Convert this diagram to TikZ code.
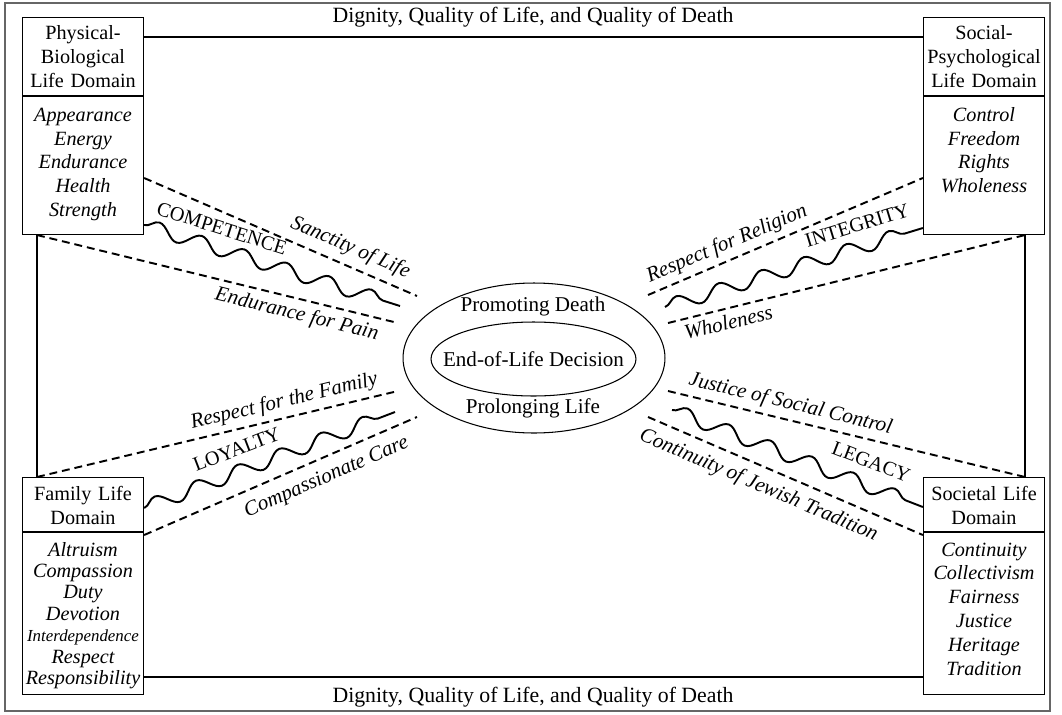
\documentclass[tikz,border=0pt]{standalone}
\usepackage{fontspec}
\setmainfont{Liberation Serif}
\usetikzlibrary{shapes.geometric,decorations.pathmorphing}

\begin{document}
\begin{tikzpicture}[x=0.02cm,y=-0.02cm,font=\fontsize{12}{14}\selectfont,
    domainhead/.style={draw,line width=.6pt,align=center,text width=66pt,inner xsep=1.5pt,inner ysep=3pt,anchor=north,font=\fontsize{11.5}{13.7}\selectfont},
    domainlist/.style={domainhead,font=\fontsize{11.5}{13.6}\selectfont\itshape},
    frameline/.style={line width=1.2pt},
    valueline/.style={line width=1.1pt,dash pattern=on 4.5pt off 2.8pt},
    virtueline/.style={line width=1.1pt,decorate,decoration={snake,segment length=0.89cm,amplitude=0.14cm}},
    valuelabel/.style={font=\fontsize{12}{14}\selectfont\itshape,sloped,inner sep=1pt},
    virtuelabel/.style={font=\fontsize{11.5}{14}\selectfont,sloped,inner sep=1pt}]
    \useasboundingbox (0,0) rectangle (1062,714);
    \draw[black!60,line width=.6pt](5,3) rectangle (1050,711);

    \node[domainhead,text height=9.3pt,text depth=29.1pt](pbhead)at(83,17){Physical-\\Biological\\Life Domain};
    \node[domainlist,text height=11pt,text depth=61.5pt](pblist)at(pbhead.south){Appearance\\Energy\\Endurance\\Health\\Strength};
    \node[domainhead,text height=9.3pt,text depth=29.1pt](sphead)at(984,17){Social-\\Psychological\\Life Domain};
    \node[domainlist,text height=11pt,text depth=61.5pt](splist)at(sphead.south){Control\\Freedom\\Rights\\Wholeness};
    \node[domainhead,text height=10pt,text depth=14.7pt](fahead)at(83,477){Family Life\\Domain};
    \node[domainlist,font=\fontsize{11.5}{12.2}\selectfont\itshape,text height=10.4pt,text depth=75.8pt](falist)at(fahead.south){Altruism\\Compassion\\Duty\\Devotion\\{\fontsize{9.6}{12.2}\selectfont Interdependence}\\Respect\\Responsibility};
    \node[domainhead,text height=10pt,text depth=14.7pt](sohead)at(984,477){Societal Life\\Domain};
    \node[domainlist,text height=10.4pt,text depth=75.8pt](solist)at(sohead.south){Continuity\\Collectivism\\Fairness\\Justice\\Heritage\\Tradition};

    \node[font=\fontsize{12.4}{14}\selectfont](dignitytop)at(533,17){Dignity, Quality of Life, and Quality of Death};
    \node[font=\fontsize{12.4}{14}\selectfont](dignitybot)at(533,697){Dignity, Quality of Life, and Quality of Death};

    \coordinate(ltop)at(37,0 |- pblist.south);
    \coordinate(lbot)at(37,0 |- fahead.north);
    \coordinate(rtop)at(1025,0 |- splist.south);
    \coordinate(rbot)at(1025,0 |- sohead.north);
    \draw[frameline](pbhead.east |- 0,37)--(sphead.west |- 0,37);
    \draw[frameline](falist.east |- 0,677)--(solist.west |- 0,677);
    \draw[frameline](ltop)--(lbot);
    \draw[frameline](rtop)--(rbot);

    \node[draw,ellipse,line width=.6pt,minimum width=5.24cm,minimum height=3cm,inner sep=0pt](choice)at(534,358){};
    \node[draw,ellipse,line width=.6pt,minimum width=4.1cm,minimum height=1.48cm,inner sep=0pt](decision)at(533.5,359){};
    \node(decisiontext)at(decision){End-of-Life Decision};
    \node(promoting)at(533,306){Promoting Death};
    \node(prolonging)at(533,408){Prolonging Life};

    \coordinate(tlup)at(417,296);
    \coordinate(tlwave)at(400,306);
    \coordinate(tllow)at(398,323);
    \coordinate(trup)at(648,295);
    \coordinate(trwave)at(665,307);
    \coordinate(trlow)at(668,323);
    \coordinate(blup)at(398,391);
    \coordinate(blwave)at(395,412);
    \coordinate(bllow)at(417,417);
    \coordinate(brup)at(668,391);
    \coordinate(brwave)at(672,410);
    \coordinate(brlow)at(648,417);

    \draw[valueline](pblist.east |- 0,178)--(tlup)node[valuelabel,pos=.73,above=3pt]{Sanctity of Life};
    \draw[virtueline](pblist.east |- 0,225)--(tlwave)node[virtuelabel,pos=.28,above=6pt]{COMPETENCE};
    \draw[valueline](ltop)--(tllow)node[valuelabel,pos=.73,below=2pt]{Endurance for Pain};

    \draw[valueline](trup)--(splist.west |- 0,178)node[valuelabel,pos=.31,above=2pt]{Respect for Religion};
    \draw[virtueline](trwave)--(splist.west |- 0,228)node[virtuelabel,pos=.77,above=7pt]{INTEGRITY};
    \draw[valueline](trlow)--(rtop)node[valuelabel,pos=.16,below=2pt]{Wholeness};

    \draw[valueline](lbot)--(blup)node[valuelabel,pos=.695,above=2pt]{Respect for the Family};
    \draw[virtueline](fahead.east |- 0,508)--(blwave)node[virtuelabel,pos=.4,above=7pt]{LOYALTY};
    \draw[valueline](falist.east |- 0,535)--(bllow)node[valuelabel,pos=.64,below=4.5pt]{Compassionate Care};

    \draw[valueline](brup)--(rbot)node[valuelabel,pos=.333,above=2pt]{Justice of Social Control};
    \draw[virtueline](brwave)--(sohead.west |- 0,507)node[virtuelabel,pos=.76,above=8pt]{LEGACY};
    \draw[valueline](brlow)--(solist.west |- 0,535)node[valuelabel,pos=.43,below=4pt]{Continuity of Jewish Tradition};
\end{tikzpicture}
\end{document}
